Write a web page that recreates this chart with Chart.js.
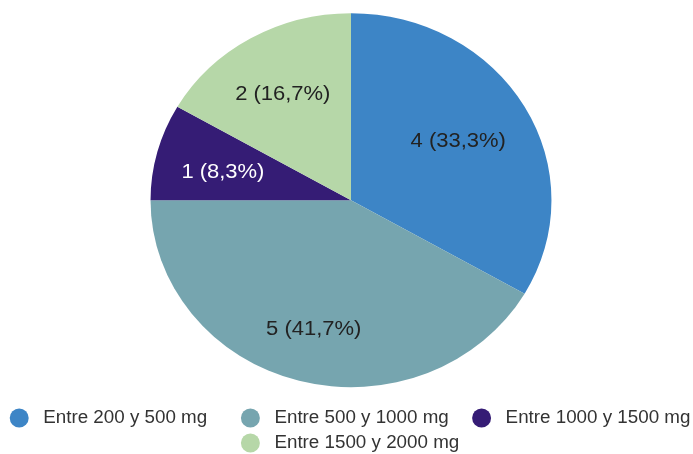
<!DOCTYPE html>
<html>
<head>
<meta charset="utf-8">
<script src="https://cdn.jsdelivr.net/npm/chart.js@4/dist/chart.umd.min.js"></script>
<style>
  html, body { margin: 0; padding: 0; background: #ffffff; }
  canvas { display: block; }
</style>
</head>
<body>
<canvas id="dosis" width="693" height="454"></canvas>
<script>
// Dose ranges and how many cases fall in each
const categories = ['Entre 200 y 500 mg', 'Entre 500 y 1000 mg', 'Entre 1000 y 1500 mg', 'Entre 1500 y 2000 mg'];
const counts = [4, 5, 1, 2];
const sliceColors = ['#3d85c6', '#76a5af', '#351c75', '#b6d7a8'];
const labelColors = ['#222222', '#222222', '#ffffff', '#222222'];

const FONT = '"Liberation Sans", Arial, Helvetica, sans-serif';
const LEGEND_SIZE = 18.8;
const LEGEND_TEXT_WIDTH = 197.6; // every legend entry gets the same column width
const STRETCH_X = 1.072;         // pie is drawn slightly wider than tall
const LABEL_RADIUS = 0.687;      // slice labels sit at this fraction of the radius
const LABEL_SHIFT = { x: -4, y: 5 };
const PIE_INSET = { left: 9, top: -2 };

const total = counts.reduce((a, b) => a + b, 0);
const sliceLabel = v => v + ' (' + (v / total * 100).toFixed(1).replace('.', ',') + '%)';

// pad legend text so all entries occupy equal columns
const measureCtx = document.createElement('canvas').getContext('2d');
measureCtx.font = LEGEND_SIZE + 'px ' + FONT;
function padLegendText(t) {
  let s = ' ' + t;
  for (const ch of [' ', '\u2009', '\u200A']) {
    while (measureCtx.measureText(s + ch).width <= LEGEND_TEXT_WIDTH) s += ch;
  }
  return s;
}

// draws the pie horizontally stretched, with value labels inside each slice
const ovalPie = {
  id: 'ovalPie',
  afterLayout(chart) {
    const ca = chart.chartArea;
    ca.left += PIE_INSET.left;
    ca.width -= PIE_INSET.left;
    ca.top += PIE_INSET.top;
    ca.height -= PIE_INSET.top;
  },
  beforeDatasetsDraw(chart) {
    const arc = chart.getDatasetMeta(0).data[0];
    const ctx = chart.ctx;
    ctx.save();
    ctx.translate(arc.x, arc.y);
    ctx.scale(STRETCH_X, 1);
    ctx.translate(-arc.x, -arc.y);
  },
  afterDatasetsDraw(chart) {
    const ctx = chart.ctx;
    ctx.restore();
    const meta = chart.getDatasetMeta(0);
    ctx.font = '20.5px ' + FONT;
    ctx.textAlign = 'center';
    ctx.textBaseline = 'middle';
    meta.data.forEach((arc, i) => {
      const mid = (arc.startAngle + arc.endAngle) / 2;
      const r = arc.outerRadius * LABEL_RADIUS;
      const x = arc.x + LABEL_SHIFT.x + Math.cos(mid) * r;
      const y = arc.y + LABEL_SHIFT.y + Math.sin(mid) * r;
      ctx.save();
      ctx.translate(x, y);
      ctx.scale(STRETCH_X, 1);
      ctx.fillStyle = labelColors[i];
      ctx.fillText(sliceLabel(counts[i]), 0, 0);
      ctx.restore();
    });
  }
};

new Chart(document.getElementById('dosis'), {
  type: 'pie',
  data: {
    labels: categories,
    datasets: [{
      data: counts,
      backgroundColor: sliceColors,
      borderWidth: 0,
      hoverOffset: 0,
      radius: 187
    }]
  },
  options: {
    responsive: false,
    devicePixelRatio: 1,
    animation: false,
    layout: { padding: { top: 0, left: 0, right: -14, bottom: -8.4 } },
    plugins: {
      tooltip: { enabled: false },
      legend: {
        position: 'bottom',
        labels: {
          usePointStyle: true,
          pointStyle: 'circle',
          boxWidth: LEGEND_SIZE,
          boxHeight: 13.4,
          padding: 6.2,
          color: '#333333',
          font: { family: FONT, size: LEGEND_SIZE },
          generateLabels(chart) {
            const items = Chart.overrides.pie.plugins.legend.labels.generateLabels(chart);
            items.forEach(it => { it.text = padLegendText(it.text); it.lineWidth = 0; });
            return items;
          }
        }
      }
    }
  },
  plugins: [ovalPie]
});
</script>
</body>
</html>
